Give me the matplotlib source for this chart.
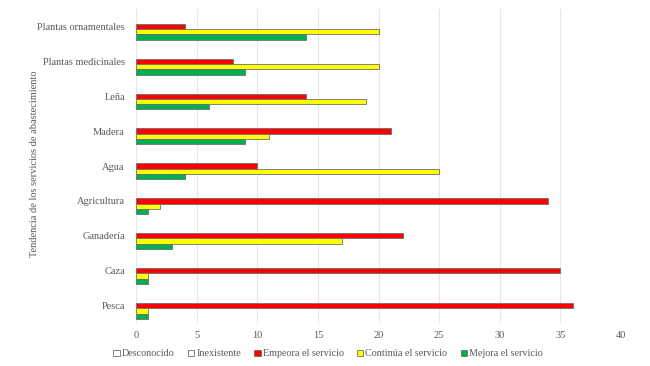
import numpy as np
import matplotlib
matplotlib.use("Agg")
import matplotlib.pyplot as plt
from matplotlib.patches import Patch

plt.rcParams['font.family'] = ['Liberation Serif', 'DejaVu Serif']

# Data
categories = ["Plantas ornamentales", "Plantas medicinales", "Leña", "Madera", "Agua",
              "Agricultura", "Ganadería", "Caza", "Pesca"]
series_names = ["Desconocido", "Inexistente", "Empeora el servicio",
                "Continúa el servicio", "Mejora el servicio"]
desconocido = [0, 0, 0, 0, 0, 0, 0, 0, 0]
inexistente = [0, 0, 0, 0, 0, 0, 0, 0, 0]
empeora     = [4, 8, 14, 21, 10, 34, 22, 35, 36]
continua    = [20, 20, 19, 11, 25, 2, 17, 1, 1]
mejora      = [14, 9, 6, 9, 4, 1, 3, 1, 1]

SERIES_COLORS = ["#FFFFFF", "#FFFFFF", "#FF0000", "#FFFF00", "#00B050"]
TEXT_COLOR = "#595959"
EDGE_COLOR = "#6E6E6E"


def main():
    fig = plt.figure(figsize=(6.5, 3.66), dpi=100)
    ax = fig.add_axes([136 / 650, 1 - 323 / 366, 485 / 650, 314 / 366])

    values = [desconocido, inexistente, empeora, continua, mejora]
    y = np.arange(len(categories))
    bar_h = 0.152
    # first series on top within each group, centred on the middle series
    for i, (name, vals, col) in enumerate(zip(series_names, values, SERIES_COLORS)):
        offset = (i - 2) * bar_h
        # zero-length bars get no outline (as in the original)
        lws = [0.6 if v > 0 else 0 for v in vals]
        ax.barh(y + offset, vals, height=bar_h, color=col,
                edgecolor=EDGE_COLOR, linewidth=lws, label=name, zorder=3)

    ax.set_ylim(len(categories) - 0.5, -0.5)
    ax.set_xlim(0, 40)
    ax.set_xticks(range(0, 41, 5))
    ax.set_yticks(y)
    ax.set_yticklabels(categories)
    ax.grid(axis='x', color="#E6E6E6", linewidth=0.8, zorder=0)
    for s in ax.spines.values():
        s.set_visible(False)
    ax.tick_params(axis='both', length=0, labelsize=7.5, labelcolor=TEXT_COLOR)
    ax.tick_params(axis='x', pad=6)
    ax.tick_params(axis='y', pad=8)

    fig.text(35 / 650, 1 - 164 / 366, "Tendencia de los servicios de abastecimiento",
             rotation=90, ha='center', va='center', fontsize=7.5, color=TEXT_COLOR)

    handles = [Patch(facecolor=c, edgecolor=EDGE_COLOR, linewidth=0.6)
               for c in SERIES_COLORS]
    fig.legend(handles, series_names, loc='center', bbox_to_anchor=(328 / 650, 1 - 354 / 366),
               ncol=5, frameon=False, fontsize=7.3, labelcolor=TEXT_COLOR,
               handlelength=0.65, handleheight=0.65, handletextpad=0.2, columnspacing=1.3)

    fig.savefig("out.png", dpi=100)
    plt.close(fig)


if __name__ == "__main__":
    main()
